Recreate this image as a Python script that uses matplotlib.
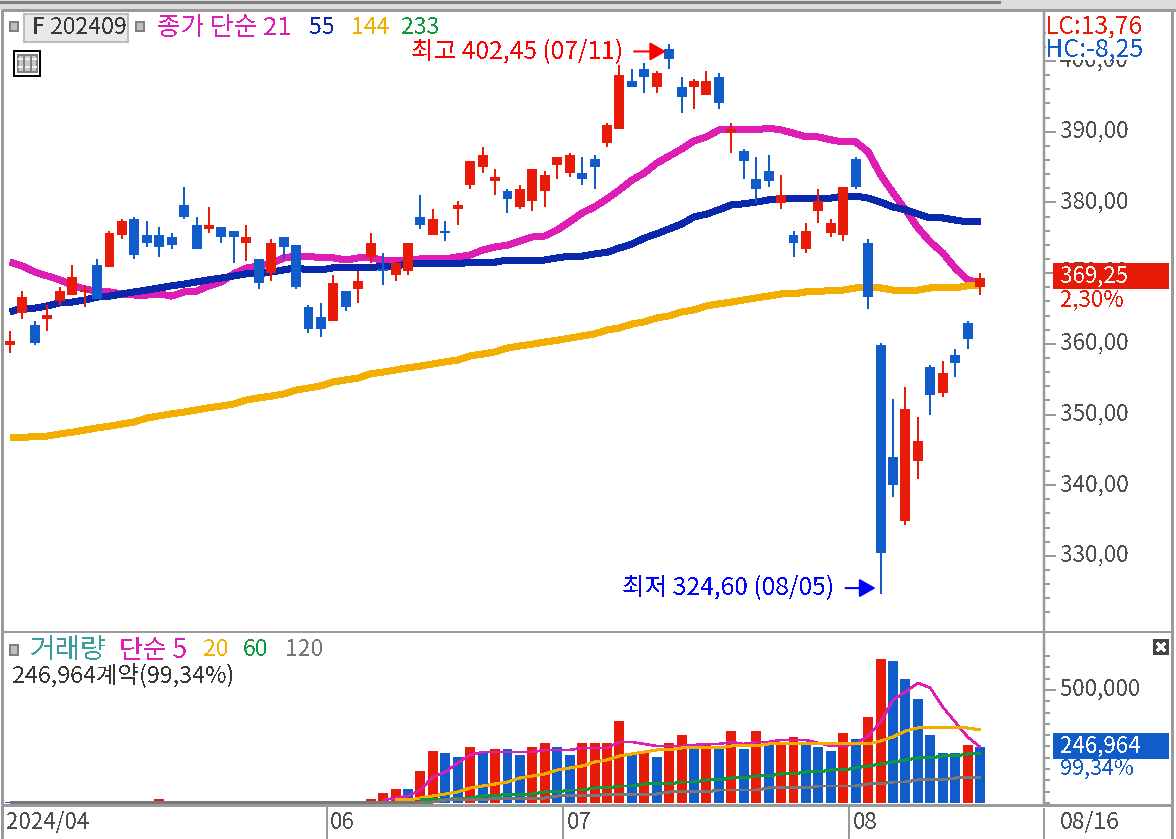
import matplotlib
matplotlib.use("Agg")
import matplotlib.pyplot as plt
from matplotlib.patches import Rectangle
from matplotlib.ticker import FixedLocator, NullFormatter
import numpy as np

plt.rcParams['font.family'] = ['Noto Sans CJK KR', 'DejaVu Sans']
plt.rcParams['text.antialiased'] = False

nan = np.nan

opens = [359.85,364.35,362.65,363.5,366.05,366.9,367.3,371.15,370.85,375.4,
         377.65,375.4,375.4,375.1,379.65,376.8,376.25,376.5,375.95,374.25,
         372.0,370.0,375.1,373.95,365.2,363.8,363.2,367.45,367.75,372.3,
         370.6,369.75,370.3,377.95,375.4,375.95,379.05,382.45,385.0,383.05,
         381.6,379.35,380.2,381.6,385.3,384.15,384.15,386.15,388.4,390.4,
         397.15,398.9,396.3,401.7,396.3,396.3,395.2,397.75,389.8,387.3,
         383.3,384.45,379.9,375.4,373.4,378.8,375.65,375.4,386.15,374.25,
         359.85,344.0,334.95,343.4,356.7,353.05,358.4,362.95,368.05]
closes = [360.4,366.6,360.1,364.05,367.45,369.45,367.6,366.35,375.65,377.35,
          372.55,374.25,373.7,373.95,377.95,373.4,376.8,375.1,375.1,375.1,
          368.6,374.25,373.7,368.05,362.1,362.1,368.6,365.2,368.9,374.25,
          370.3,371.45,374.25,376.8,377.65,375.65,379.65,385.85,386.7,383.6,
          380.5,381.9,384.7,383.9,386.4,386.7,383.3,385.0,390.95,398.05,
          396.3,397.75,398.3,400.3,394.9,397.15,397.15,394.05,390.4,385.85,
          381.9,383.05,381.05,374.25,375.95,380.2,377.1,382.2,382.2,366.6,
          330.4,340.05,350.8,346.25,352.75,355.9,357.3,360.7,369.25]
highs = [361.8,367.45,363.2,365.5,368.05,371.15,368.3,372.0,375.95,377.65,
         377.95,377.35,376.5,375.65,382.2,377.95,379.35,376.5,375.95,376.8,
         372.0,374.8,375.1,373.95,365.5,365.8,369.75,367.45,370.3,375.65,
         372.85,371.7,374.25,381.05,379.05,377.35,380.2,385.85,387.85,384.7,
         381.9,382.45,384.7,384.45,386.4,387.0,386.4,386.7,391.25,399.45,
         398.9,399.7,398.6,402.45,397.75,397.45,398.6,398.3,391.25,387.55,
         386.4,386.7,383.9,375.95,377.1,381.9,377.65,382.2,386.4,374.8,
         360.1,352.2,353.9,349.65,357.0,357.55,359.3,363.2,370.0]
lows = [358.7,363.5,359.85,361.8,365.5,366.9,365.2,366.35,370.85,374.8,
        372.0,373.7,372.3,373.4,377.65,373.4,375.65,374.25,371.45,371.7,
        367.75,368.9,372.0,367.75,361.5,360.95,363.2,364.65,365.8,371.45,
        368.3,368.9,369.75,376.25,375.4,374.55,376.8,381.9,384.15,381.05,
        378.5,379.05,378.8,379.35,383.3,383.6,382.45,381.9,387.85,390.4,
        396.3,395.45,395.45,398.9,392.65,393.2,395.2,393.2,387.0,383.3,
        379.9,382.2,379.05,372.3,372.85,377.1,375.1,374.55,381.9,364.9,
        324.6,338.35,334.4,340.9,349.95,352.45,355.3,359.3,366.9]

ma21 = [371.55,371.0,370.15,369.6,369.05,368.3,367.75,367.45,367.35,367.05,
        366.9,366.9,367.05,366.75,367.35,367.45,368.2,368.75,369.9,370.7,
        371.0,371.3,372.15,372.4,372.4,372.15,372.15,371.85,372.15,372.15,
        371.85,371.85,371.85,372.0,372.0,372.0,372.3,372.55,373.25,373.7,
        373.95,374.55,375.1,375.25,376.1,377.25,378.5,379.35,380.5,381.75,
        383.15,384.15,385.55,386.55,387.55,388.7,389.25,390.25,390.25,390.25,
        390.25,390.5,390.25,389.8,389.25,389.25,388.85,388.55,388.55,387.15,
        383.9,381.35,378.95,376.4,374.4,372.85,370.7,369.05,368.6]
ma55 = [364.5,365.05,365.05,365.35,365.8,365.9,366.2,366.6,366.75,367.05,
        367.35,367.6,367.9,368.2,368.45,368.75,369.05,369.3,369.6,369.9,
        369.9,370.15,370.45,370.75,370.45,370.45,370.75,370.75,370.75,370.75,
        371.0,371.0,371.3,371.3,371.3,371.3,371.3,371.55,371.55,371.55,
        371.85,371.85,371.85,371.85,372.15,372.4,372.4,372.7,372.95,373.55,
        374.1,374.95,375.55,376.25,376.95,377.95,378.35,378.95,379.65,379.8,
        380.05,380.35,380.5,380.6,380.6,380.6,380.6,380.9,380.9,380.6,
        380.05,379.35,378.95,378.35,377.8,377.8,377.5,377.25,377.25]
ma144 = [346.7,346.7,346.95,346.95,347.25,347.5,347.8,348.1,348.35,348.65,
         348.95,349.5,349.8,350.1,350.35,350.65,350.95,351.2,351.5,352.05,
         352.35,352.6,352.9,353.45,353.75,354.05,354.6,354.9,355.15,355.75,
         356.0,356.3,356.6,356.85,357.15,357.45,357.7,358.3,358.55,358.85,
         359.4,359.7,359.95,360.25,360.5,360.8,361.1,361.4,361.95,362.25,
         362.8,363.1,363.65,363.95,364.5,364.8,365.35,365.65,365.9,366.2,
         366.5,366.75,367.05,367.05,367.35,367.35,367.6,367.6,367.9,367.9,
         367.9,367.6,367.6,367.6,367.9,367.9,367.9,368.2,368.3]

volume = [4000,0,0,0,0,0,0,0,0,0,0,0,17700,0,0,0,0,0,0,0,
          0,0,0,0,0,0,0,0,0,17700,44250,61950,61950,141600,230100,221250,203550,247800,221250,238950,
          238950,212400,247800,265500,247800,212400,265500,265500,265500,362850,212400,221250,203550,265500,300900,256650,265500,238950,318600,238950,
          318600,256650,256650,292050,256650,247800,230100,309750,283200,380550,637200,628350,548700,460200,300900,221250,221250,256650,246964]
vol_red_days = [12,29,30,31,33,34,37,39,42,43,46,47,48,49,51,53,54,56,58,60,62,63,67,69,70,77]

vol_ma5 = [nan]*30 + [13300,22100,31000,57500,115000,137200,177000,212400,225700,225700,
                      225700,225700,225700,234500,234500,234500,243400,243400,243400,269900,
                      269900,261100,252200,252200,252200,256650,261100,261100,269900,261100,
                      269900,269900,278800,278800,278800,265500,252200,252200,261100,296500,
                      358400,455800,491200,531000,508900,424800,358400,292050,247800]
vol_ma20 = [nan]*31 + [13300,13300,22100,31000,39800,48700,66400,75200,84100,92900,
                       110600,119500,128300,146000,154900,163700,181400,190300,208000,216800,
                       225700,234500,234500,243400,243400,243400,243400,252200,252200,252200,
                       261100,261100,261100,261100,261100,261100,261100,261100,261100,274350,
                       292050,318600,331900,331900,331900,331900,331900,323000]
vol_ma60 = [nan]*33 + [13300,13300,13300,22100,22100,31000,31000,39800,39800,39800,
                       48700,48700,57500,57500,66400,66400,75200,75200,84100,84100,
                       84100,92900,92900,101800,101800,110600,110600,119500,119500,128300,
                       128300,137200,137200,146000,146000,154900,163700,172600,181400,190300,
                       199100,199100,208000,208000,216800,216800]
vol_ma120 = [4400]*35 + [13300]*4 + [22100]*5 + [31000]*4 + [39800]*5 + [48700]*4 + [57500]*4 \
    + [66400]*4 + [75200]*4 + [84100]*2 + [92900]*2 + [101800]*3 + [110600]*3

price_ticks = [330,340,350,360,370,380,390,400]
month_starts = [26,45,68]
month_labels = ["06","07","08"]

RED = "#E81B09"
BLUE = "#115CCB"
PINK = "#DE1DB4"
NAVY = "#0A28AC"
AMBER = "#F2AF00"
GREEN = "#0E9A3C"
GRAY = "#777777"
AXIS = "#9A9A9A"
TEXT = "#505050"
PX = 0.72  # points per pixel at dpi 100

W, H = 1176, 839
fig = plt.figure(figsize=(W/100, H/100), dpi=100, facecolor="white")

def axes_px(left, top, right, bottom):
    return fig.add_axes([left/W, 1-bottom/H, (right-left)/W, (bottom-top)/H])

xlim = (-0.563, 83.14)
days = np.arange(len(closes))

# price panel
ax = axes_px(3, 11, 1044, 631)
ax.set_xlim(*xlim)
ax.set_ylim(319.38, 407.07)
for line, col, z in [(ma21, PINK, 2), (ma55, NAVY, 3), (ma144, AMBER, 4)]:
    ax.plot(days, line, color=col, lw=6*PX, zorder=z, antialiased=False, solid_capstyle="butt")
candle_cols = [RED if c >= o else BLUE for o, c in zip(opens, closes)]
ax.vlines(days, lows, highs, colors=candle_cols, lw=2*PX, zorder=5, antialiased=False)
ax.bar(days, np.abs(np.array(closes)-np.array(opens)), bottom=np.minimum(opens, closes),
       width=0.8, color=candle_cols, zorder=6, antialiased=False)

hi_i = int(np.argmax(highs))
lo_i = int(np.argmin(lows))
ax.annotate("최고 402,45 (07/11)", xy=(hi_i, highs[hi_i]), xytext=(-46*PX, -8*PX),
            textcoords="offset points", ha="right", va="center", color="#FF0000", fontsize=17.7, zorder=8)
ax.annotate("", xy=(hi_i-0.25, highs[hi_i]-1.1), xytext=(-32*PX, 0), textcoords="offset points",
            arrowprops=dict(arrowstyle="-|>,head_length=0.7,head_width=0.4", color="#FF0000", lw=1.5,
                            shrinkA=0, shrinkB=0, mutation_scale=14), zorder=8)
ax.annotate("최저 324,60 (08/05)", xy=(lo_i, lows[lo_i]), xytext=(-46*PX, 6*PX),
            textcoords="offset points", ha="right", va="center", color="#0000FF", fontsize=17.7, zorder=8)
ax.annotate("", xy=(lo_i-0.4, lows[lo_i]+0.85), xytext=(-30*PX, 0), textcoords="offset points",
            arrowprops=dict(arrowstyle="-|>,head_length=0.7,head_width=0.4", color="#0000FF", lw=1.5,
                            shrinkA=0, shrinkB=0, mutation_scale=14), zorder=8)

def style_axis(a, major, minor):
    for s in ["top", "left", "bottom"]:
        a.spines[s].set_visible(False)
    a.spines["right"].set_color(AXIS)
    a.spines["right"].set_linewidth(2.5*PX)
    a.set_xticks([])
    a.yaxis.tick_right()
    a.yaxis.set_major_locator(FixedLocator(major))
    a.yaxis.set_minor_locator(FixedLocator(minor))
    a.yaxis.set_major_formatter(NullFormatter())
    a.tick_params(axis="y", which="major", length=12*PX, width=2*PX, color=AXIS)
    a.tick_params(axis="y", which="minor", length=6*PX, width=2*PX, color=AXIS)
    a.patch.set_alpha(0)

style_axis(ax, price_ticks, [v for v in range(322, 406, 2) if v % 10])
for v in price_ticks:
    ax.annotate(f"{v:.2f}".replace(".", ","), xy=(1, v), xycoords=ax.get_yaxis_transform(),
                xytext=(16*PX, 0.5*PX), textcoords="offset points", va="center", ha="left",
                color=TEXT, fontsize=16.2, annotation_clip=False, zorder=1)

# volume panel
vax = axes_px(3, 633, 1044, 805)
vax.set_xlim(*xlim)
vax.set_ylim(-8850, 752000)
vol_cols = [RED if i in vol_red_days else BLUE for i in days]
vax.bar(days, volume, width=0.8, color=vol_cols, zorder=2, antialiased=False)
for line, col, lw, z in [(vol_ma5, PINK, 1.6, 3), (vol_ma20, AMBER, 2, 4),
                         (vol_ma60, GREEN, 2, 5), (vol_ma120, GRAY, 2, 6)]:
    vax.plot(days, line, color=col, lw=lw*PX, zorder=z, antialiased=False, solid_capstyle="butt")
style_axis(vax, [500000], [v for v in range(0, 700000, 50000) if v != 500000])
vax.annotate("500,000", xy=(1, 500000), xycoords=vax.get_yaxis_transform(),
             xytext=(16*PX, 1*PX), textcoords="offset points", va="center", ha="left",
             color=TEXT, fontsize=16, annotation_clip=False)

# date strip
dax = axes_px(3, 806, 1044, 839)
dax.set_xlim(*xlim)
dax.set_ylim(0, 1)
dax.axis("off")
for m, lab in zip(month_starts, month_labels):
    dax.axvline(m-0.5, color=AXIS, lw=2*PX, antialiased=False)
    dax.annotate(lab, xy=(m-0.5, 0.5), xytext=(3*PX, 0), textcoords="offset points",
                 va="center", ha="left", color=TEXT, fontsize=16)

# window chrome and header texts, placed in screen pixels
ov = fig.add_axes([0, 0, 1, 1], zorder=10)
ov.set_xlim(0, W)
ov.set_ylim(H, 0)
ov.axis("off")
ov.patch.set_alpha(0)

def hline(y, x0, x1, col=AXIS, lw=2):
    ov.plot([x0, x1], [y, y], color=col, lw=lw*PX, antialiased=False, solid_capstyle="butt", zorder=4)

def vline(x, y0, y1, col=AXIS, lw=2):
    ov.plot([x, x], [y0, y1], color=col, lw=lw*PX, antialiased=False, solid_capstyle="butt", zorder=4)

def box(x0, y0, x1, y1, fc, ec="none", lw=1, z=3):
    ov.add_patch(Rectangle((x0, y0), x1-x0, y1-y0, facecolor=fc, edgecolor=ec, lw=lw*PX, antialiased=False, zorder=z))

def label(x, y, s, col, ha="left", size=16):
    ov.text(x, y, s, color=col, ha=ha, va="center", fontsize=size, zorder=6)

box(0, 0, W, 10, "#DCDCDC")
hline(1.5, 0, 1000, "#808080", 3)
hline(10, 2, W, AXIS, 3)
vline(2, 10, H, AXIS, 3)
vline(1172, 10, H, AXIS, 3)
hline(632, 2, 1172, AXIS, 2)
hline(805, 2, 1172, AXIS, 3)
vline(1044, 808, H, AXIS, 2)

# price header
def marker(x0, y0, x1, y1):
    box(x0, y0, x1, y1, "#C0C0C0", "#808080", 2)

marker(10, 22, 18, 31)
box(24, 14, 128, 42, "#E8E8E8", "#BDBDBD", 2)
label(32, 28, "F 202409", "#383838", size=16.7)
marker(136, 22, 144, 31)
label(157, 28, "종가 단순 21", PINK, size=18.5)
label(309, 28, "55", NAVY, size=16.5)
label(351, 28, "144", AMBER, size=16.5)
label(401, 28, "233", GREEN, size=16.5)

# table icon
box(14, 51, 40, 76, "white", "black", 2)
box(18, 55, 37, 72, "#C8C8C8", "#808080", 2)
for gy in [59, 67]:
    hline(gy, 18, 37, "#F0F0F0", 1.5)
for gx in [24, 31]:
    vline(gx, 55, 72, "#808080", 1.5)

# LC/HC block hides the top of the 400,00 label
box(1046, 12, 1170, 60, "white")
label(1046, 26, "LC:13,76", RED, size=17.7)
label(1046, 49, "HC:-8,25", BLUE, size=18)

# last price
box(1053, 263, 1169, 289, RED)
label(1060, 276, "369,25", "white")
label(1060, 300, "2,30%", RED)

# volume header
marker(10, 645, 18, 655)
label(30, 650, "거래량", "#3A9C9C", size=20)
label(119, 650, "단순 5", PINK, size=18.7)
label(203, 650, "20", AMBER, size=16.5)
label(243, 650, "60", GREEN, size=16.5)
label(285, 650, "120", GRAY, size=16.5)
label(12, 676, "246,964계약(99,34%)", "#383838", size=16.8)

# last volume
box(1053, 733, 1169, 759, BLUE)
label(1060, 746, "246,964", "white")
label(1060, 769, "99,34%", BLUE, size=15.5)

# panel close button
box(1153, 639, 1169, 655, "#454545")
ov.plot([1158, 1164], [644, 650], color="white", lw=1.5*PX, antialiased=False, zorder=4)
ov.plot([1158, 1164], [650, 644], color="white", lw=1.5*PX, antialiased=False, zorder=4)

label(6, 822, "2024/04", TEXT, size=16)
label(1060, 822, "08/16", TEXT, size=16.5)

fig.savefig("out.png", dpi=100)
